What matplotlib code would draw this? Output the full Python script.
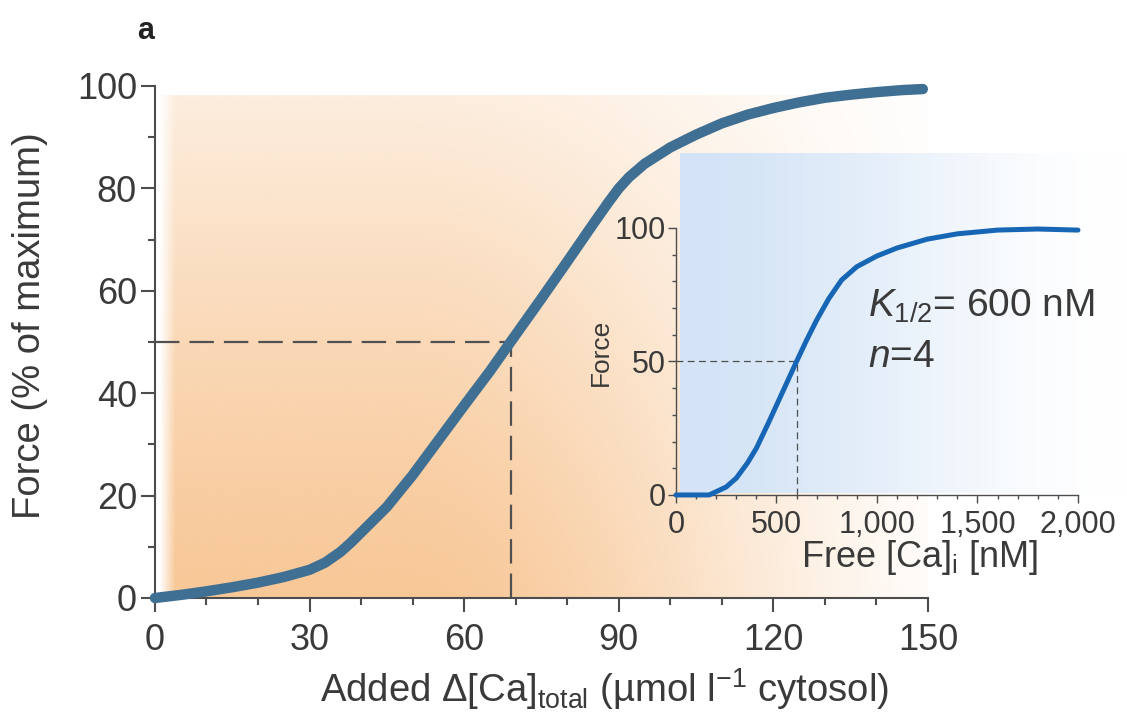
import numpy as np
import matplotlib
matplotlib.use('Agg')
import matplotlib.pyplot as plt
from matplotlib.ticker import MultipleLocator

plt.rcParams['font.family'] = ['Liberation Sans', 'DejaVu Sans']
plt.rcParams['mathtext.fontset'] = 'custom'
plt.rcParams['mathtext.rm'] = 'Liberation Sans'
plt.rcParams['mathtext.it'] = 'Liberation Sans:italic'
plt.rcParams['mathtext.bf'] = 'Liberation Sans:bold'

text_col = '#3a3a3a'
axis_col = '#4d4d4d'

# main panel: force vs added total Ca (umol/l cytosol)
ca_total = [0, 5, 10, 15, 20, 25, 30, 33, 36, 38, 40, 45, 50, 55, 60, 65, 69,
            75, 80, 85, 88, 90, 92, 95, 100, 105, 110, 115, 120, 125, 130, 135, 140, 145, 149]
force_main = [0, 0.6, 1.3, 2.1, 3.0, 4.1, 5.5, 6.9, 9.0, 10.8, 12.8, 17.8, 24, 30.8, 37.6, 44.3, 50,
              58.5, 65.7, 73, 77.3, 80, 82.2, 84.8, 88, 90.5, 92.7, 94.4, 95.7, 96.8, 97.7, 98.3,
              98.8, 99.2, 99.4]
half_total = 69

# inset: force vs free [Ca]i (nM)
ca_free = [0, 100, 165, 250, 300, 355, 400, 460, 530, 600, 650, 700, 760, 824,
           900, 1000, 1100, 1250, 1400, 1600, 1800, 2000]
force_inset = [0, 0, 0, 3, 6.3, 11.9, 17.5, 27, 38.5, 50, 58, 65.5, 73.5, 80.5,
               85.5, 89.5, 92.5, 95.8, 97.8, 99.2, 99.6, 99.2]
k_half = 600

main_xticks = [0, 30, 60, 90, 120, 150]
main_yticks = [0, 20, 40, 60, 80, 100]
inset_xticks = [0, 500, 1000, 1500, 2000]
inset_xticklabels = ['0', '500', '1,000', '1,500', '2,000']
inset_yticks = [0, 50, 100]


def smoothstep(t):
    t = np.clip(t, 0, 1)
    return t * t * (3 - 2 * t)


fig = plt.figure(figsize=(11.27, 7.13), dpi=100)

# ---- main axes ----
ax = fig.add_axes([0.1375, 0.1613, 0.6859, 0.7181])
ax.patch.set_alpha(0)

# orange background gradient
u, v = np.meshgrid(np.linspace(0, 1, 400), np.linspace(0, 1, 300))
alpha = 0.85 * (1 - smoothstep((u - 0.32) / 0.8)) * (1 - 0.68 * v ** 1.2) * np.clip(u / 0.02, 0, 1)
orange = np.zeros((300, 400, 4))
orange[..., 0] = 247 / 255
orange[..., 1] = 190 / 255
orange[..., 2] = 133 / 255
orange[..., 3] = alpha
ax.imshow(orange, extent=[0.8, 150, 0, 98.2], origin='lower', aspect='auto',
          interpolation='bilinear', zorder=0)

ax.plot([0, half_total], [50, 50], color='#505050', lw=1.6, dashes=(11, 4.5), zorder=2)
ax.plot([half_total, half_total], [0, 50], color='#505050', lw=1.6, dashes=(11, 4.5), zorder=2)
ax.plot(ca_total, force_main, color='#3f6f93', lw=7.5, solid_capstyle='round',
        solid_joinstyle='round', clip_on=False, zorder=3)

ax.set_xlim(0, 150)
ax.set_ylim(0, 100)
ax.set_xticks(main_xticks)
ax.set_yticks(main_yticks)
ax.xaxis.set_minor_locator(MultipleLocator(10))
ax.yaxis.set_minor_locator(MultipleLocator(10))
for s in ['top', 'right']:
    ax.spines[s].set_visible(False)
for s in ['left', 'bottom']:
    ax.spines[s].set_color(axis_col)
    ax.spines[s].set_linewidth(1.5)
ax.tick_params(which='major', length=10, width=1.5, color=axis_col, labelcolor=text_col, labelsize=26)
ax.tick_params(which='minor', length=5, width=1.5, color=axis_col)
ax.tick_params(axis='y', which='major', pad=3)
ax.tick_params(axis='x', which='major', pad=8)

fig.text(0.536, 0.0154, 'Added \u0394[Ca]$_{\\mathrm{total}}$ (\u00b5mol l$^{\\mathrm{-1}}$ cytosol)',
         ha='center', va='baseline', fontsize=27.5, color=text_col)
fig.text(0.027, 0.543, 'Force (% of maximum)', rotation=90, ha='center', va='center',
         fontsize=27.5, color=text_col)
fig.text(0.122, 0.945, 'a', fontsize=22, fontweight='bold', color='#222222', va='baseline')

# ---- inset axes ----
ax2 = fig.add_axes([0.5998, 0.3058, 0.3567, 0.3745])
ax2.patch.set_alpha(0)

# light blue panel behind the inset (opaque, hides orange)
bu, bv = np.meshgrid(np.linspace(0, 1, 300), np.linspace(0, 1, 50))
blue = np.zeros((50, 300, 4))
fade = 1 - smoothstep(bu)
blue[..., 0] = (255 - fade * (255 - 212)) / 255
blue[..., 1] = (255 - fade * (255 - 228)) / 255
blue[..., 2] = (255 - fade * (255 - 246)) / 255
blue[..., 3] = 1
im = ax2.imshow(blue, extent=[20, 2250, 0.7, 128], origin='lower', aspect='auto',
                interpolation='bilinear', zorder=0)
im.set_clip_on(False)

ax2.plot([0, k_half], [50, 50], color='#505050', lw=0.9, dashes=(5.5, 3.5), zorder=2)
ax2.plot([k_half, k_half], [0, 50], color='#505050', lw=0.9, dashes=(5.5, 3.5), zorder=2)
ax2.plot(ca_free, force_inset, color='#1666b5', lw=3.6, solid_capstyle='round',
         solid_joinstyle='round', clip_on=False, zorder=3)

ax2.set_xlim(0, 2000)
ax2.set_ylim(0, 100)
ax2.set_xticks(inset_xticks)
ax2.set_xticklabels(inset_xticklabels)
ax2.set_yticks(inset_yticks)
ax2.xaxis.set_minor_locator(MultipleLocator(100))
ax2.yaxis.set_minor_locator(MultipleLocator(10))
for s in ['top', 'right']:
    ax2.spines[s].set_visible(False)
for s in ['left', 'bottom']:
    ax2.spines[s].set_color(axis_col)
    ax2.spines[s].set_linewidth(1.0)
ax2.tick_params(which='major', length=6, width=1.0, color=axis_col, labelcolor=text_col, labelsize=22)
ax2.tick_params(which='minor', length=3, width=1.0, color=axis_col)
ax2.tick_params(axis='y', which='major', pad=1)
ax2.tick_params(axis='x', which='major', pad=5)

ax2.text(0.478, 0.667, r'$K_{\mathrm{1/2}}$= 600 nM', transform=ax2.transAxes,
         fontsize=28, color=text_col, va='baseline')
ax2.text(0.478, 0.479, r'$n$=4', transform=ax2.transAxes,
         fontsize=28, color=text_col, va='baseline')
fig.text(0.816, 0.2048, r'Free [Ca]$_{\mathrm{i}}$ [nM]', ha='center', va='baseline',
         fontsize=26, color=text_col)
fig.text(0.533, 0.506, 'Force', rotation=90, ha='center', va='center', fontsize=19, color=text_col)

fig.savefig('out.png', dpi=100)
